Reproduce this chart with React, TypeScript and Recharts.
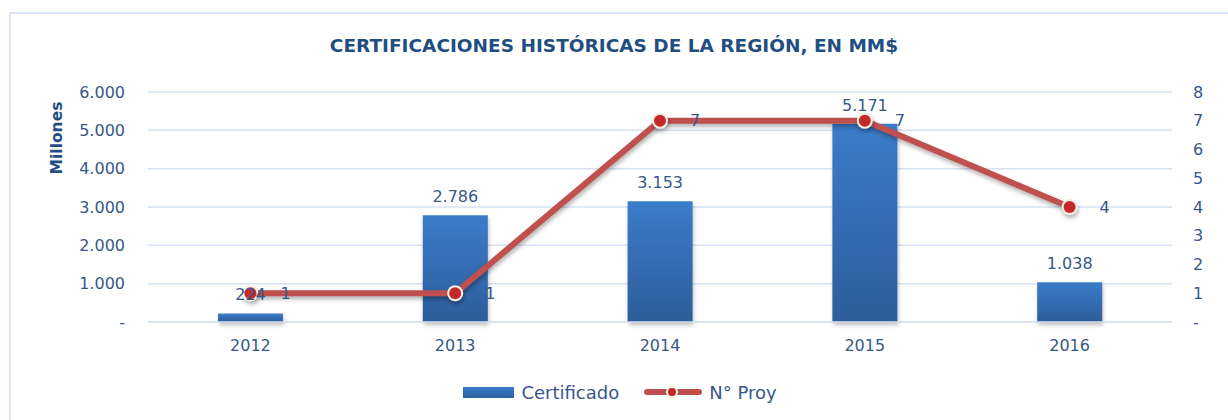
import React from 'react';
import { ComposedChart, Bar, Line, XAxis, YAxis, CartesianGrid, Legend, LabelList } from 'recharts';

const years = ['2012', '2013', '2014', '2015', '2016'];
const certificado = [224, 2786, 3153, 5171, 1038];
const nProy = [1, 1, 7, 7, 4];
const leftTicks = [0, 1000, 2000, 3000, 4000, 5000, 6000];
const rightTicks = [0, 1, 2, 3, 4, 5, 6, 7, 8];

const data = years.map((y, i) => ({ year: y, cert: certificado[i], proy: nProy[i] }));

const FONT = '"DejaVu Sans", sans-serif';
const TEXT = '#365889';
const TITLE = '#1f4e82';

const fmt = (v: number) => (v === 0 ? '-' : v.toLocaleString('de-DE'));

const Dot = (props: any) => {
  const { cx, cy } = props;
  if (cx == null || cy == null) return null;
  return (
    <g filter="url(#shadow)">
      <circle cx={cx} cy={cy} r={8} fill="#f3efe4" />
      <circle cx={cx} cy={cy} r={6} fill="#c42a2a" />
    </g>
  );
};

const LegendContent = () => (
  <div style={{ display: 'flex', justifyContent: 'center', alignItems: 'center', fontFamily: FONT, fontSize: 18, color: TEXT, height: 20, paddingLeft: 12 }}>
    <div style={{ width: 51, height: 11, background: 'linear-gradient(#3b7bc8, #2d5e9c)', marginRight: 7 }} />
    <span>Certificado</span>
    <svg width={58} height={16} style={{ marginLeft: 25, marginRight: 7 }}>
      <line x1={3} y1={8} x2={55} y2={8} stroke="#c0504d" strokeWidth={6} strokeLinecap="round" />
      <circle cx={28} cy={8} r={6} fill="#f3efe4" />
      <circle cx={28} cy={8} r={4} fill="#c42a2a" />
    </svg>
    <span>N° Proy</span>
  </div>
);

export default function App() {
  return (
    <div style={{ position: 'fixed', left: 0, top: 0, width: 1228, height: 420, background: '#fff', overflow: 'hidden' }}>
      <div style={{ position: 'absolute', left: 9, top: 12, width: 1240, height: 430, borderTop: '2px solid #dbe5f4', borderLeft: '2px solid #dbe5f4' }} />
      <div style={{ position: 'absolute', left: 0, top: 35, width: 1228, textAlign: 'center', fontFamily: FONT, fontWeight: 'bold', fontSize: 18.5, color: TITLE }}>
        CERTIFICACIONES HISTÓRICAS DE LA REGIÓN, EN MM$
      </div>
      <div style={{ position: 'absolute', left: 0, top: 0 }}>
        <ComposedChart width={1228} height={420} data={data} margin={{ top: 92, right: 0, bottom: 48, left: 0 }}>
          <defs>
            <linearGradient id="barGrad" x1="0" y1="0" x2="0" y2="1">
              <stop offset="0%" stopColor="#3b7cca" />
              <stop offset="100%" stopColor="#2d5d9a" />
            </linearGradient>
            <filter id="shadow" x="-20%" y="-20%" width="140%" height="160%">
              <feDropShadow dx="1" dy="3" stdDeviation="2" floodColor="#000" floodOpacity="0.3" />
            </filter>
          </defs>
          <CartesianGrid vertical={false} stroke="#d6e2f3" strokeWidth={1.5} yAxisId="left" />
          <XAxis
            dataKey="year"
            axisLine={{ stroke: '#d6e2f3', strokeWidth: 1.5 }}
            tickLine={false}
            tickSize={0}
            tickMargin={18}
            height={30}
            tick={{ fill: TEXT, fontSize: 16, fontFamily: FONT }}
          />
          <YAxis
            yAxisId="left"
            width={148}
            domain={[0, 6000]}
            ticks={leftTicks}
            tickFormatter={fmt}
            axisLine={false}
            tickLine={false}
            tickSize={0}
            tickMargin={23}
            tick={{ fill: TEXT, fontSize: 16, fontFamily: FONT }}
            label={{
              content: () => (
                <text x={57} y={138} transform="rotate(-90 57 138)" textAnchor="middle" dominantBaseline="central" fill={TITLE} fontFamily={FONT} fontWeight="bold" fontSize={15.5}>
                  Millones
                </text>
              ),
            }}
          />
          <YAxis
            yAxisId="right"
            orientation="right"
            width={56}
            domain={[0, 8]}
            ticks={rightTicks}
            tickFormatter={fmt}
            axisLine={false}
            tickLine={false}
            tickSize={0}
            tickMargin={21}
            tick={{ fill: TEXT, fontSize: 16, fontFamily: FONT }}
          />
          <Bar yAxisId="left" dataKey="cert" name="Certificado" fill="url(#barGrad)" barSize={65} isAnimationActive={false} style={{ filter: 'drop-shadow(1px 3px 2px rgba(0,0,0,0.25))' }}>
            <LabelList dataKey="cert" position="top" offset={13} formatter={(v: any) => fmt(Number(v))} fill={TEXT} fontSize={16} fontFamily={FONT} />
          </Bar>
          <Line
            yAxisId="right"
            dataKey="proy"
            name="N° Proy"
            stroke="#c0504d"
            strokeWidth={6}
            dot={<Dot />}
            activeDot={false}
            isAnimationActive={false}
            style={{ filter: 'drop-shadow(1px 3px 2px rgba(0,0,0,0.3))' }}
          >
            <LabelList dataKey="proy" position="right" offset={30} fill={TEXT} fontSize={16} fontFamily={FONT} />
          </Line>
          <Legend content={<LegendContent />} wrapperStyle={{ position: 'absolute', top: 382, left: 0, width: 1228 }} />
        </ComposedChart>
      </div>
    </div>
  );
}
